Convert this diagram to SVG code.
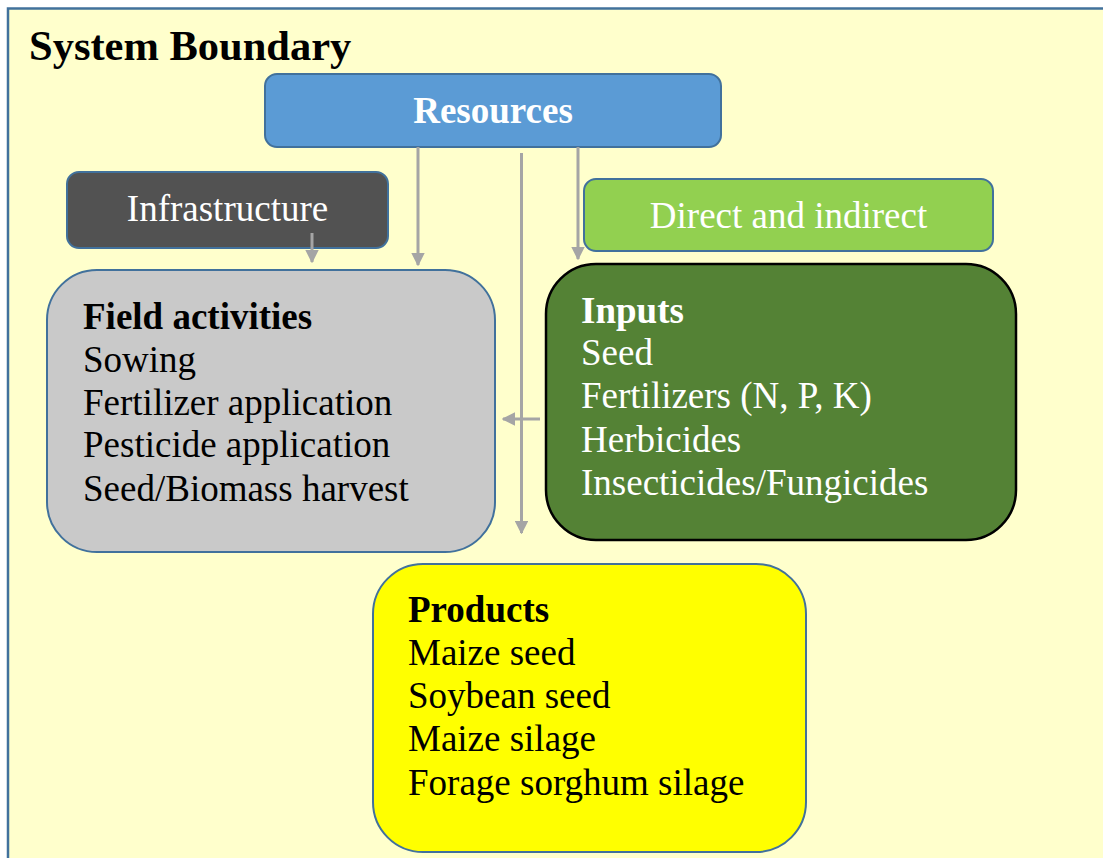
<svg xmlns="http://www.w3.org/2000/svg" width="1103" height="858" viewBox="0 0 1103 858">
<defs>
<style>
text{font-family:"Liberation Serif","Times New Roman",serif;font-size:37px;}
.b{font-weight:bold;}
.w{fill:#ffffff;}
.k{fill:#000000;}
.box{stroke:#41719c;stroke-width:2;}
.con{stroke:#a5a5a5;stroke-width:3;fill:none;marker-end:url(#ah);}
</style>
<marker id="ah" viewBox="0 0 10 10" refX="9" refY="5" markerWidth="4.6" markerHeight="4.6" orient="auto" markerUnits="strokeWidth">
<path d="M0,0 L10,5 L0,10 z" fill="#a5a5a5"/>
</marker>
</defs>
<rect x="0" y="0" width="1103" height="858" fill="#ffffff"/>
<g id="boundary">
<rect x="8" y="8.5" width="1110" height="870" fill="#ffffcc" stroke="#41719c" stroke-width="2.5"/>
<text x="29" y="60" class="b k" style="font-size:42.5px">System Boundary</text>
</g>
<g id="resources">
<rect x="265" y="74" width="456" height="73" rx="12" class="box" fill="#5b9bd5"/>
<text x="493" y="123" text-anchor="middle" class="b w">Resources</text>
</g>
<g id="infrastructure">
<rect x="67" y="172" width="321" height="76" rx="12" class="box" fill="#525252"/>
<text x="227.5" y="221" text-anchor="middle" class="w">Infrastructure</text>
</g>
<g id="direct">
<rect x="584" y="179" width="409" height="72" rx="12" class="box" fill="#92d050"/>
<text x="788.5" y="228" text-anchor="middle" class="w">Direct and indirect</text>
</g>
<g id="field">
<rect x="47" y="270" width="448" height="282" rx="50" class="box" fill="#c9c9c9"/>
<text x="83" y="329" class="b k">Field activities</text>
<text x="83" y="372" class="k">Sowing</text>
<text x="83" y="415" class="k">Fertilizer application</text>
<text x="83" y="457" class="k">Pesticide application</text>
<text x="83" y="501" class="k">Seed/Biomass harvest</text>
</g>
<g id="inputs">
<rect x="546" y="264" width="470" height="276" rx="50" fill="#548235" stroke="#000000" stroke-width="2.5"/>
<text x="581" y="323" class="b w">Inputs</text>
<text x="581" y="365" class="w">Seed</text>
<text x="581" y="408" class="w">Fertilizers (N, P, K)</text>
<text x="581" y="452" class="w">Herbicides</text>
<text x="581" y="495" class="w">Insecticides/Fungicides</text>
</g>
<g id="products">
<rect x="373" y="564" width="433" height="288" rx="50" class="box" fill="#ffff00"/>
<text x="408" y="622" class="b k">Products</text>
<text x="408" y="665" class="k">Maize seed</text>
<text x="408" y="708" class="k">Soybean seed</text>
<text x="408" y="751" class="k">Maize silage</text>
<text x="408" y="795" class="k">Forage sorghum silage</text>
</g>
<g id="connectors">
<line x1="312" y1="233" x2="312" y2="262" class="con"/>
<line x1="418" y1="147" x2="418" y2="265" class="con"/>
<line x1="521.5" y1="153" x2="521.5" y2="533" class="con"/>
<line x1="578" y1="147" x2="578" y2="259" class="con"/>
<line x1="540" y1="419" x2="503" y2="419" class="con"/>
</g>
</svg>
